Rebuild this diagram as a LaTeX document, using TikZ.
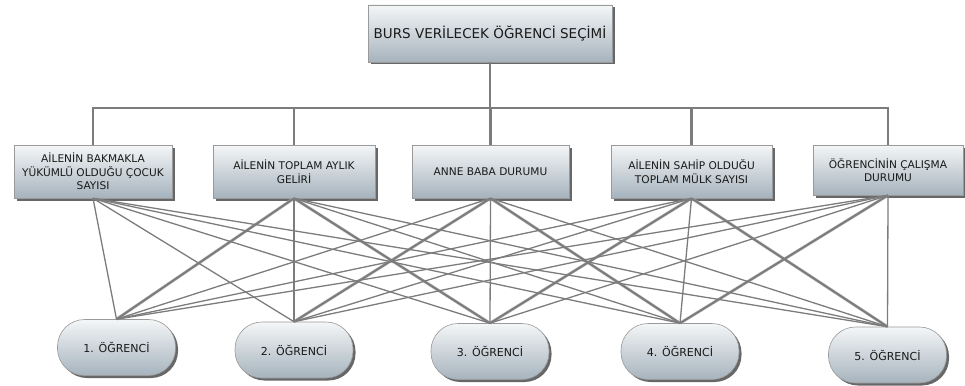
\documentclass[tikz,border=0pt]{standalone}
\usepackage{fontspec}
\setmainfont{DejaVu Sans}
\usetikzlibrary{shadows}
\definecolor{boxtop}{HTML}{F4F6F7}
\definecolor{boxbot}{HTML}{A6B3BD}
\definecolor{edgec}{HTML}{9A9A9A}
\definecolor{conn}{HTML}{7C7C7C}
\definecolor{txt}{HTML}{1A1A1A}
\tikzset{
  boxbase/.style={draw=edgec, line width=0.6pt, top color=boxtop, bottom color=boxbot,
    drop shadow={shadow xshift=2.5pt, shadow yshift=-2.5pt, fill=black!70, opacity=.85},
    align=center, inner sep=0pt, text=txt},
  topbox/.style={boxbase, minimum width=244pt, minimum height=57pt, font=\fontsize{13.5}{16}\selectfont},
  critbox/.style={boxbase, minimum height=53pt, font=\fontsize{10.6}{13.5}\selectfont},
  stud/.style={boxbase, rounded corners=27pt, minimum width=118pt, minimum height=56pt, font=\fontsize{11}{13}\selectfont},
  tree/.style={draw=conn, line width=2.2pt},
  link/.style={draw=conn, line width=1.3pt},
  halo/.style={draw=conn!55, line width=3.2pt, opacity=.7},
  thick link/.style={draw=conn, line width=2pt}
}
\begin{document}
\begin{tikzpicture}[x=1pt,y=-1pt]
\useasboundingbox (0,0) rectangle (965,385);
\node[topbox] (top) at (490,33.5) {BURS VERİLECEK ÖĞRENCİ SEÇİMİ};
\node[critbox, minimum width=158pt] (b1) at (93,171.5) {AİLENİN BAKMAKLA\\YÜKÜMLÜ OLDUĞU ÇOCUK\\SAYISI};
\node[critbox, minimum width=162pt] (b2) at (294,171.5) {AİLENİN TOPLAM AYLIK\\GELİRİ};
\node[critbox, minimum width=157pt] (b3) at (490.5,171.5) {ANNE BABA DURUMU};
\node[critbox, minimum width=161pt] (b4) at (691.5,171.5) {AİLENİN SAHİP OLDUĞU\\TOPLAM MÜLK SAYISI};
\node[critbox, minimum width=150pt, minimum height=50pt] (b5) at (888,170) {ÖĞRENCİNİN ÇALIŞMA\\DURUMU};
\node[stud] (o1) at (116.5,347.5) {1. ÖĞRENCİ};
\node[stud] (o2) at (294,350) {2. ÖĞRENCİ};
\node[stud] (o3) at (490,351.5) {3. ÖĞRENCİ};
\node[stud] (o4) at (680,351.5) {4. ÖĞRENCİ};
\node[stud] (o5) at (887.5,355) {5. ÖĞRENCİ};
\coordinate (bar) at (490,108);
\draw[tree] (top.south) -- (top.south |- bar);
\foreach \k in {1,...,5} {
  \draw[tree] (b\k.north) -- (b\k.north |- bar);
}
\draw[tree] ([xshift=-1.1pt]b1.north |- bar) -- ([xshift=1.1pt]b5.north |- bar);
\foreach \i/\j in {2/1,2/3,3/2,3/4,4/3,4/5,5/4} {
  \draw[halo] (b\i.south) -- (o\j.north);
}
\foreach \i in {1,...,5} {
  \foreach \j in {1,...,5} {
    \draw[link] (b\i.south) -- (o\j.north);
  }
}
\foreach \i/\j in {2/1,2/3,3/2,3/4,4/3,4/5,5/4} {
  \draw[thick link] (b\i.south) -- (o\j.north);
}
\end{tikzpicture}
\end{document}
